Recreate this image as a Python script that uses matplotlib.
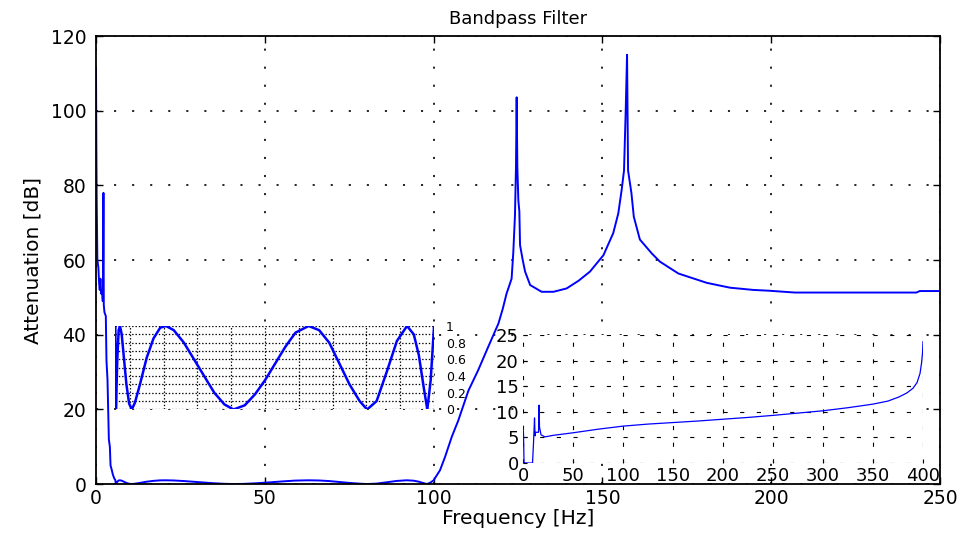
import numpy as np
import matplotlib.pyplot as plt

plt.rcParams['font.family'] = ['DejaVu Sans']
plt.rcParams['lines.scale_dashes'] = False

# main response: low stopband, passband ripple, upper stopband (Hz, dB)
f_low = [0.0, 0.1, 0.2, 0.4, 0.7, 0.9, 1.1, 1.3, 1.5, 1.8, 2.0, 2.1, 2.2, 2.3,
         2.5, 2.9, 3.1, 3.4, 3.8, 4.1, 4.3, 4.6, 5.0, 5.4, 5.7]
a_low = [111, 90, 76, 60, 58, 54, 52, 55, 51, 52, 49, 60, 78, 48,
         46, 45, 33, 28, 12, 10, 5, 4, 2.5, 1.5, 1.1]

f_pass = [5.9, 6.3, 6.7, 7.1, 7.6, 8.3, 9.0, 9.8, 10.6, 11.5, 13, 15, 17, 19,
          20.7, 23, 26, 29, 32, 35, 38, 40.7, 44, 47, 50, 53, 56, 59, 62.9,
          66, 69, 72, 75, 78, 80.2, 83, 86, 89, 92, 94, 95.5, 97, 98, 99, 100]
a_pass = [0.0, 0.6, 0.95, 1.0, 0.9, 0.6, 0.3, 0.07, 0.0, 0.08, 0.3, 0.62, 0.85, 0.98,
          1.0, 0.95, 0.8, 0.6, 0.4, 0.2, 0.06, 0.0, 0.05, 0.18, 0.35, 0.55, 0.75, 0.92, 1.0,
          0.95, 0.8, 0.55, 0.3, 0.1, 0.0, 0.1, 0.45, 0.82, 1.0, 0.9, 0.65, 0.25, 0.0, 0.35, 1.0]

f_high = [101.9, 103.4, 105.4, 107.3, 110.3, 113.2, 116.2, 119.2, 120.5, 121.6, 123.1,
          123.6, 124.1, 124.4, 124.6, 124.8, 125.1, 125.4, 125.6, 126.4, 127.1, 128.6,
          132, 135.5, 139.4, 143, 146.3, 150.3, 153.2, 154.7, 155.7, 156.4, 156.9, 157.3,
          157.6, 158.6, 159.3, 161.1, 164.6, 167, 172.5, 180.9, 187.8, 194.7, 199.1,
          207, 243, 244, 250]
a_high = [3.7, 7.3, 12.7, 17, 25, 30.5, 36.8, 43, 47, 51, 55,
          62, 72, 85, 103.6, 85, 76, 73, 64, 60, 56.9, 53.3,
          51.5, 51.5, 52.4, 54.5, 56.9, 61.3, 67.2, 72.5, 78.8, 84, 100, 115,
          84, 77.9, 71.6, 65.5, 61.8, 59.6, 56.4, 53.9, 52.6, 52, 51.8,
          51.3, 51.3, 51.7, 51.7]

# small inset (wide frequency range)
x_wide = [0, 0.5, 1, 1.5, 9.5, 10.5, 11.5, 12, 12.5, 13, 15.5, 16, 16.5, 17, 18, 20,
          22, 30, 50, 75, 100, 125, 150, 175, 200, 225, 250, 275, 300, 325, 350,
          365, 376, 384, 390, 394, 397, 398.5, 399.5, 400]
y_wide = [7.2, 5.5, 0, 0, 0, 4, 8.8, 5.3, 6, 6, 6, 11.3, 7, 6.5, 5.5, 5.3,
          5.1, 5.4, 5.9, 6.6, 7.2, 7.6, 7.9, 8.2, 8.55, 8.9, 9.3, 9.75, 10.2, 10.8, 11.5,
          12.1, 12.9, 13.7, 14.6, 15.7, 17.5, 19.5, 21.5, 23.7]

freq = np.concatenate([f_low, f_pass, f_high])
att = np.concatenate([a_low, a_pass, a_high])

fig = plt.figure(figsize=(9.65, 5.39), dpi=100)
ax = fig.add_axes([0.0995, 0.102, 0.8746, 0.831])
ax.plot(freq, att, color='#0000ff', lw=1.4)
ax.set_xlim(0, 250)
ax.set_ylim(0, 120)
ax.set_xticks(range(0, 251, 50))
ax.set_yticks(range(0, 121, 20))
ax.grid(True, color='k', lw=1.2, linestyle=(0, (1.5, 11.5)))
ax.tick_params(direction='in', length=5, width=1, top=True, right=True, labelsize=13.5)
ax.tick_params(axis='y', pad=7)
for s in ax.spines.values():
    s.set_linewidth(1.3)
ax.set_title('Bandpass Filter', fontsize=13, pad=9)
ax.set_xlabel('Frequency [Hz]', fontsize=14.5, labelpad=1)
ax.set_ylabel('Attenuation [dB]', fontsize=14.5, labelpad=6)

# passband ripple zoom
ax1 = fig.add_axes([0.1192, 0.2403, 0.3306, 0.1549])
ax1.plot(freq, att, color='#0000ff', lw=1.8)
ax1.set_xlim(5.63, 100)
ax1.set_ylim(0, 1)
ax1.set_xticks(range(10, 101, 10))
ax1.set_yticks(np.arange(0, 1.01, 0.2))
ax1.set_yticks(np.arange(0, 1.01, 0.1), minor=True)
ax1.set_yticklabels(['0', '0.2', '0.4', '0.6', '0.8', '1'])
ax1.grid(True, which='both', color='k', lw=0.9, linestyle=(0, (1, 1.4)))
ax1.tick_params(axis='x', labelbottom=False, length=0)
ax1.tick_params(axis='y', which='both', left=False, right=False, labelleft=False,
                labelright=True, labelsize=9, pad=5)
for s in ax1.spines.values():
    s.set_visible(False)

# wide range inset
ax2 = fig.add_axes([0.542, 0.141, 0.4145, 0.2375])
ax2.plot(x_wide, y_wide, color='#0000ff', lw=0.9)
ax2.set_xlim(0, 400)
ax2.set_ylim(0, 25)
ax2.set_xticks(range(0, 401, 50))
ax2.set_yticks(range(0, 26, 5))
ax2.grid(True, color='k', lw=0.8, linestyle=(0, (3, 9)))
ax2.tick_params(direction='in', length=3, labelsize=13, pad=3)
for s in ax2.spines.values():
    s.set_visible(False)
for lab in ax2.get_xticklabels():
    lab.set_clip_on(True)
    lab.set_clip_box(ax.bbox)

fig.savefig('out.png', dpi=100)
